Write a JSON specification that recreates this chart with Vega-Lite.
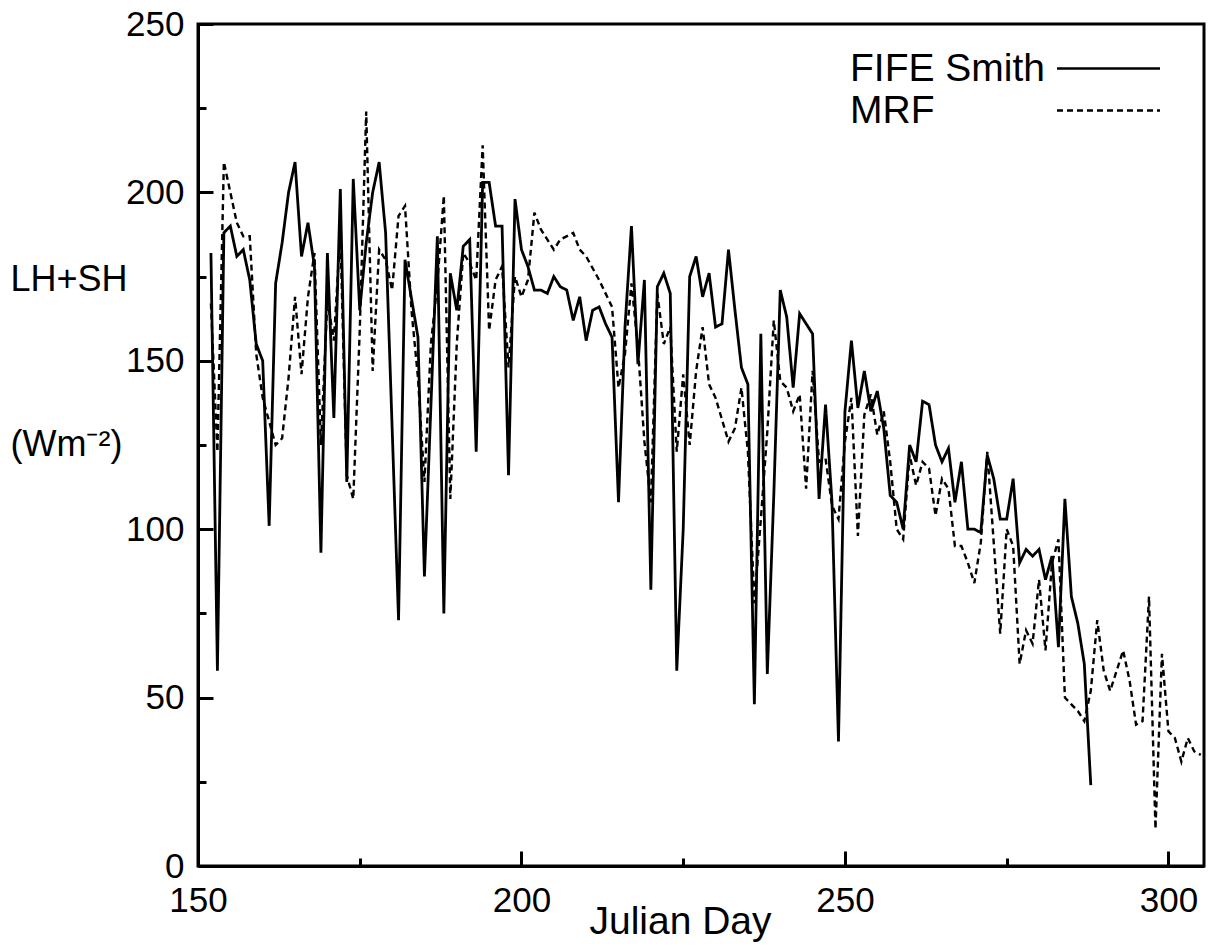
{
  "$schema": "https://vega.github.io/schema/vega-lite/v6.json",
  "autosize": {"type": "none"},
  "padding": {"left": 198, "top": 24, "right": 9, "bottom": 83},
  "width": 1006,
  "height": 842,
  "background": "white",
  "config": {
    "font": "Liberation Sans",
    "view": {"stroke": "black", "strokeWidth": 3},
    "axis": {"labelFont": "Liberation Sans", "titleFont": "Liberation Sans", "labelColor": "black", "titleColor": "black", "domainColor": "black", "tickColor": "black", "grid": false, "labelFontSize": 35, "titleFontSize": 36, "titleFontWeight": "normal", "domainWidth": 3, "tickWidth": 3, "labelFlush": false}
  },
  "datasets": {
    "fife": [
      {"day":152,"value":182},{"day":153,"value":58},{"day":154,"value":188},{"day":155,"value":190},{"day":156,"value":181},{"day":157,"value":183},{"day":158,"value":174},{"day":159,"value":155},{"day":160,"value":150},{"day":161,"value":101},{"day":162,"value":173},{"day":163,"value":185},{"day":164,"value":200},{"day":165,"value":209},{"day":166,"value":181},{"day":167,"value":191},{"day":168,"value":178},{"day":169,"value":93},{"day":170,"value":182},{"day":171,"value":133},{"day":172,"value":201},{"day":173,"value":114},{"day":174,"value":204},{"day":175,"value":165},{"day":176,"value":185},{"day":177,"value":200},{"day":178,"value":209},{"day":179,"value":188},{"day":181,"value":73},{"day":182,"value":180},{"day":184,"value":157},{"day":185,"value":86},{"day":187,"value":187},{"day":188,"value":75},{"day":189,"value":176},{"day":190,"value":165},{"day":191,"value":184},{"day":192,"value":186},{"day":193,"value":123},{"day":194,"value":203},{"day":195,"value":203},{"day":196,"value":190},{"day":197,"value":190},{"day":198,"value":116},{"day":199,"value":198},{"day":200,"value":183},{"day":201,"value":178},{"day":202,"value":171},{"day":203,"value":171},{"day":204,"value":170},{"day":205,"value":175},{"day":206,"value":172},{"day":207,"value":171},{"day":208,"value":162},{"day":209,"value":169},{"day":210,"value":156},{"day":211,"value":165},{"day":212,"value":166},{"day":213,"value":161},{"day":214,"value":157},{"day":215,"value":108},{"day":216,"value":160},{"day":217,"value":190},{"day":218,"value":149},{"day":219,"value":174},{"day":220,"value":82},{"day":221,"value":172},{"day":222,"value":176},{"day":223,"value":170},{"day":224,"value":58},{"day":225,"value":100},{"day":226,"value":175},{"day":227,"value":181},{"day":228,"value":169},{"day":229,"value":176},{"day":230,"value":160},{"day":231,"value":161},{"day":232,"value":183},{"day":233,"value":165},{"day":234,"value":148},{"day":235,"value":143},{"day":236,"value":48},{"day":237,"value":158},{"day":238,"value":57},{"day":239,"value":110},{"day":240,"value":171},{"day":241,"value":163},{"day":242,"value":142},{"day":243,"value":164},{"day":244,"value":161},{"day":245,"value":158},{"day":246,"value":109},{"day":247,"value":137},{"day":248,"value":108},{"day":249,"value":37},{"day":250,"value":135},{"day":251,"value":156},{"day":252,"value":136},{"day":253,"value":147},{"day":254,"value":135},{"day":255,"value":141},{"day":256,"value":130},{"day":257,"value":110},{"day":258,"value":108},{"day":259,"value":100},{"day":260,"value":125},{"day":261,"value":120},{"day":262,"value":138},{"day":263,"value":137},{"day":264,"value":125},{"day":265,"value":120},{"day":266,"value":124},{"day":267,"value":108},{"day":268,"value":120},{"day":269,"value":100},{"day":270,"value":100},{"day":271,"value":99},{"day":272,"value":122},{"day":273,"value":115},{"day":274,"value":103},{"day":275,"value":103},{"day":276,"value":115},{"day":277,"value":90},{"day":278,"value":94},{"day":279,"value":92},{"day":280,"value":94},{"day":281,"value":85},{"day":282,"value":92},{"day":283,"value":65},{"day":284,"value":109},{"day":285,"value":80},{"day":286,"value":72},{"day":287,"value":60},{"day":288,"value":24}
    ],
    "mrf": [
      {"day":152,"value":167},{"day":153,"value":123},{"day":154,"value":209},{"day":155,"value":200},{"day":156,"value":191},{"day":157,"value":187},{"day":158,"value":187},{"day":159,"value":152},{"day":160,"value":139},{"day":161,"value":132},{"day":162,"value":125},{"day":163,"value":127},{"day":164,"value":145},{"day":165,"value":169},{"day":166,"value":146},{"day":167,"value":169},{"day":168,"value":182},{"day":169,"value":125},{"day":170,"value":168},{"day":171,"value":156},{"day":172,"value":188},{"day":173,"value":116},{"day":174,"value":109},{"day":175,"value":159},{"day":176,"value":224},{"day":177,"value":147},{"day":178,"value":183},{"day":179,"value":180},{"day":180,"value":171},{"day":181,"value":193},{"day":182,"value":196},{"day":183,"value":165},{"day":184,"value":145},{"day":185,"value":114},{"day":186,"value":155},{"day":187,"value":173},{"day":188,"value":199},{"day":189,"value":109},{"day":190,"value":155},{"day":191,"value":182},{"day":192,"value":179},{"day":193,"value":174},{"day":194,"value":214},{"day":195,"value":159},{"day":196,"value":174},{"day":197,"value":178},{"day":198,"value":148},{"day":199,"value":175},{"day":200,"value":169},{"day":201,"value":174},{"day":202,"value":194},{"day":203,"value":189},{"day":205,"value":183},{"day":206,"value":186},{"day":208,"value":188},{"day":209,"value":183},{"day":210,"value":181},{"day":212,"value":174},{"day":214,"value":166},{"day":215,"value":142},{"day":216,"value":152},{"day":217,"value":173},{"day":218,"value":154},{"day":219,"value":126},{"day":220,"value":108},{"day":221,"value":170},{"day":222,"value":155},{"day":223,"value":160},{"day":224,"value":123},{"day":225,"value":146},{"day":226,"value":125},{"day":227,"value":147},{"day":228,"value":160},{"day":229,"value":143},{"day":230,"value":139},{"day":232,"value":126},{"day":233,"value":130},{"day":234,"value":142},{"day":235,"value":123},{"day":236,"value":78},{"day":237,"value":103},{"day":238,"value":129},{"day":239,"value":162},{"day":240,"value":144},{"day":241,"value":142},{"day":242,"value":135},{"day":243,"value":140},{"day":244,"value":112},{"day":245,"value":147},{"day":246,"value":120},{"day":247,"value":121},{"day":248,"value":107},{"day":249,"value":103},{"day":250,"value":126},{"day":251,"value":139},{"day":252,"value":98},{"day":253,"value":134},{"day":254,"value":140},{"day":255,"value":128},{"day":256,"value":135},{"day":257,"value":120},{"day":258,"value":100},{"day":259,"value":97},{"day":260,"value":122},{"day":261,"value":113},{"day":262,"value":120},{"day":263,"value":118},{"day":264,"value":104},{"day":265,"value":115},{"day":266,"value":112},{"day":267,"value":95},{"day":268,"value":95},{"day":269,"value":90},{"day":270,"value":84},{"day":271,"value":96},{"day":272,"value":123},{"day":273,"value":96},{"day":274,"value":69},{"day":275,"value":100},{"day":276,"value":95},{"day":277,"value":60},{"day":278,"value":70},{"day":279,"value":66},{"day":280,"value":85},{"day":281,"value":64},{"day":282,"value":90},{"day":283,"value":97},{"day":284,"value":50},{"day":285,"value":48},{"day":286,"value":46},{"day":287,"value":43},{"day":288,"value":52},{"day":289,"value":73},{"day":290,"value":58},{"day":291,"value":52},{"day":292,"value":58},{"day":293,"value":64},{"day":294,"value":55},{"day":295,"value":42},{"day":296,"value":43},{"day":297,"value":80},{"day":298,"value":11},{"day":299,"value":63},{"day":300,"value":40},{"day":301,"value":38},{"day":302,"value":31},{"day":303,"value":38},{"day":304,"value":34},{"day":305,"value":33}
    ]
  },
  "layer": [
    {
      "data": {"name": "fife"},
      "transform": [{"calculate": "'FIFE Smith'", "as": "series"}],
      "mark": {"type": "line", "color": "black", "strokeWidth": 2.8, "clip": true},
      "encoding": {
        "x": {"field": "day", "type": "quantitative", "scale": {"domain": [150, 305.5], "nice": false, "zero": false},
          "axis": {"values": [150, 200, 250, 300], "tickSize": -15, "labelPadding": 32, "labelFlush": false, "title": "Julian Day", "titleX": 482, "titleY": 67, "titleBaseline": "alphabetic", "titleFontSize": 39}},
        "y": {"field": "value", "type": "quantitative", "scale": {"domain": [0, 250], "nice": false},
          "axis": {"values": [0, 50, 100, 150, 200, 250], "tickSize": -15, "labelPadding": 29, "labelFlush": false,
            "title": ["LH+SH", "(Wm⁻²)"], "titleAngle": 0, "titleAlign": "left", "titleBaseline": "alphabetic", "titleX": -188, "titleY": 266, "titleLineHeight": 165, "titleFontSize": 36}},
        "strokeDash": {"field": "series", "type": "nominal",
          "scale": {"domain": ["FIFE Smith", "MRF"], "range": [[1, 0], [6, 4]]},
          "legend": {"title": null, "orient": "none", "legendX": 889, "legendY": 23, "padding": 0, "symbolType": "M-2.575,0H2.575", "symbolSize": 1600, "symbolStrokeWidth": 2.5, "symbolStrokeColor": "black", "symbolFillColor": "transparent", "labelFontSize": 39, "labelColor": "black", "labelOffset": -280, "labelLimit": 400, "rowPadding": -8}}
      }
    },
    {
      "data": {"name": "mrf"},
      "transform": [{"calculate": "'MRF'", "as": "series"}],
      "mark": {"type": "line", "color": "black", "strokeWidth": 2.4, "clip": true},
      "encoding": {
        "x": {"field": "day", "type": "quantitative", "axis": {"orient": "bottom", "values": [175, 225, 275], "tickSize": -8, "labels": false, "domain": false, "title": null}},
        "y": {"field": "value", "type": "quantitative", "axis": {"orient": "left", "values": [25, 75, 125, 175, 225], "tickSize": -8, "labels": false, "domain": false, "title": null}},
        "strokeDash": {"field": "series", "type": "nominal"}
      }
    }
  ],
  "resolve": {"axis": {"x": "independent", "y": "independent"}}
}
